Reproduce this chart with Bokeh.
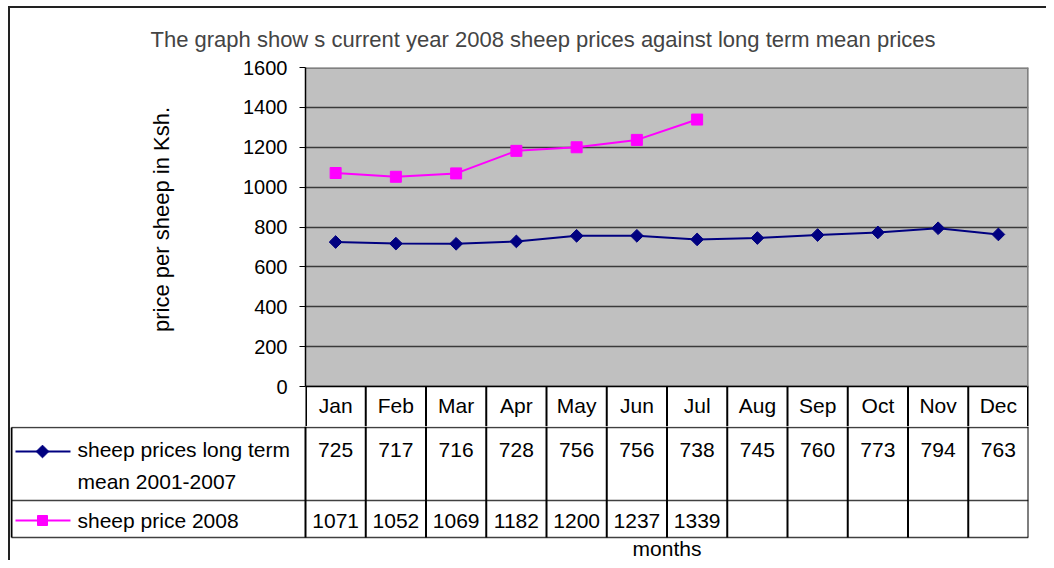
from bokeh.plotting import figure
from bokeh.layouts import column
from bokeh.models import Range1d, FixedTicker
from bokeh.core.properties import value
from bokeh.embed import file_html
from bokeh.resources import INLINE

# ---- data ----
months = ["Jan", "Feb", "Mar", "Apr", "May", "Jun", "Jul", "Aug", "Sep", "Oct", "Nov", "Dec"]
long_term = [725, 717, 716, 728, 756, 756, 738, 745, 760, 773, 794, 763]
price_2008 = [1071, 1052, 1069, 1182, 1200, 1237, 1339]
series_names = ["sheep prices long term\nmean 2001-2007", "sheep price 2008"]
y_ticks = [0, 200, 400, 600, 800, 1000, 1200, 1400, 1600]

title_text = "The graph show s current year 2008 sheep prices against long term mean prices"
y_label = "price per sheep in Ksh."
x_label = "months"

FONT = "Liberation Sans"
NAVY = "#000080"
MAGENTA = "#FF00FF"
YMAX = 1600

n = len(months)
xs = [i + 0.5 for i in range(n)]
xs_2008 = xs[:len(price_2008)]

PLOT_H = 320          # px height of plot area
EXT = 40              # px month row below plot area (top of table)
unit = 723 / n        # px per category
upp = YMAX / PLOT_H   # data units per px
ext_units = EXT * upp

# ---- top chart (plot area + month row) ----
p = figure(width=1036, height=58 + PLOT_H + EXT, x_range=Range1d(0, n),
           y_range=Range1d(-ext_units, YMAX),
           x_axis_location=None, output_backend="svg", toolbar_location=None,
           min_border_left=295, min_border_right=18, min_border_top=58, min_border_bottom=0)
p.frame_align = False
p.background_fill_color = "#C0C0C0"
p.border_fill_color = "white"
p.outline_line_color = None
p.xgrid.visible = False
p.ygrid.grid_line_color = "#3a3a3a"
p.ygrid.grid_line_width = 1.5
p.ygrid.ticker = FixedTicker(ticks=y_ticks)

ax = p.yaxis[0]
ax.ticker = FixedTicker(ticks=y_ticks)
ax.bounds = (0, YMAX)
ax.minor_tick_line_color = None
ax.major_tick_out = 6
ax.major_tick_in = 0
ax.major_tick_line_color = "black"
ax.axis_line_color = "black"
ax.axis_line_width = 1.5
ax.major_label_text_font = FONT
ax.major_label_text_font_size = "20px"
ax.major_label_text_color = "black"
ax.major_label_standoff = 12
# leading no-break spaces lift the label so it centres on the plot area, not on the month row
ax.axis_label = "\u00a0" * 9 + y_label
ax.axis_label_text_font = FONT
ax.axis_label_text_font_size = "22px"
ax.axis_label_text_font_style = "normal"
ax.axis_label_text_color = "black"
ax.axis_label_standoff = 66

p.title.text = title_text
p.title.text_font = FONT
p.title.text_font_size = "22px"
p.title.text_font_style = "normal"
p.title.align = "left"
p.title.offset = -155
p.title.standoff = 32

# month row (white strip below the plot area)
p.quad(left=[0], right=[n], bottom=[-ext_units], top=[0], fill_color="white", line_color=None)
p.segment(x0=list(range(1, n)), y0=[-ext_units] * (n - 1), x1=list(range(1, n)), y1=[0] * (n - 1),
          line_color="black", line_width=2)
p.segment(x0=[0, n], y0=[-ext_units] * 2, x1=[0, n], y1=[0, 0], line_color="black", line_width=3)
p.segment(x0=[0], y0=[0], x1=[n], y1=[0], line_color="black", line_width=1.5)
p.text(x=xs, y=[-19 * upp] * n, text=months, text_font=value(FONT), text_font_size="21px",
       text_color="black", text_align="center", text_baseline="middle")
# plot-area border (top / right)
p.segment(x0=[0, n], y0=[YMAX, 0], x1=[n, n], y1=[YMAX, YMAX], line_color="#808080", line_width=3)

p.line(xs, long_term, line_color=NAVY, line_width=2)
p.scatter(xs, long_term, marker="square", angle=0.785398, size=9, fill_color=NAVY, line_color=NAVY)
p.line(xs_2008, price_2008, line_color=MAGENTA, line_width=2)
p.scatter(xs_2008, price_2008, marker="square", size=11, fill_color=MAGENTA, line_color=MAGENTA)

# ---- data table rows ----
left_edge = -295 / unit
t = figure(width=1036, height=174 - EXT, x_range=Range1d(left_edge, n), y_range=Range1d(174, EXT),
           x_axis_location=None, y_axis_location=None, output_backend="svg", toolbar_location=None,
           min_border_left=0, min_border_right=18, min_border_top=0, min_border_bottom=0)
t.frame_align = False
t.outline_line_color = None
t.grid.visible = False
t.background_fill_color = "white"

tbl_left = -294 / unit
row_y = [41, 114, 151]
t.segment(x0=[tbl_left] * 3, y0=row_y, x1=[n] * 3, y1=row_y, line_color="#404040", line_width=1.5)
t.segment(x0=list(range(n + 1)), y0=[EXT] * (n + 1), x1=list(range(n + 1)), y1=[row_y[2]] * (n + 1),
          line_color="black", line_width=2)
t.segment(x0=[tbl_left], y0=[row_y[0]], x1=[tbl_left], y1=[row_y[2]], line_color="black", line_width=2)

txt = dict(text_font=value(FONT), text_font_size="21px", text_color="black",
           text_align="center", text_baseline="middle")
t.text(x=xs, y=[63] * n, text=[str(v) for v in long_term], **txt)
t.text(x=xs_2008, y=[134] * len(price_2008), text=[str(v) for v in price_2008], **txt)
t.text(x=[n / 2], y=[162], text=[x_label], **txt)

# legend keys
kx0 = (15 - 305) / unit
kx1 = (70 - 305) / unit
kxm = (42 - 305) / unit
tx = (77 - 305) / unit
t.segment(x0=[kx0], y0=[65], x1=[kx1], y1=[65], line_color=NAVY, line_width=2)
t.scatter([kxm], [65], marker="square", angle=0.785398, size=9, fill_color=NAVY, line_color=NAVY)
t.segment(x0=[kx0], y0=[134], x1=[kx1], y1=[134], line_color=MAGENTA, line_width=2)
t.scatter([kxm], [134], marker="square", size=10, fill_color=MAGENTA, line_color=MAGENTA)
t.text(x=[tx, tx], y=[79, 134], text=series_names, text_font=value(FONT), text_font_size="21px",
       text_color="black", text_align="left", text_baseline="middle", text_line_height=1.35)

layout = column(p, t, spacing=0,
                styles={"border-left": "2px solid #222", "border-top": "2px solid #222",
                        "margin-left": "8px", "margin-top": "6px"})

open("out.html", "w").write(file_html(layout, INLINE))
